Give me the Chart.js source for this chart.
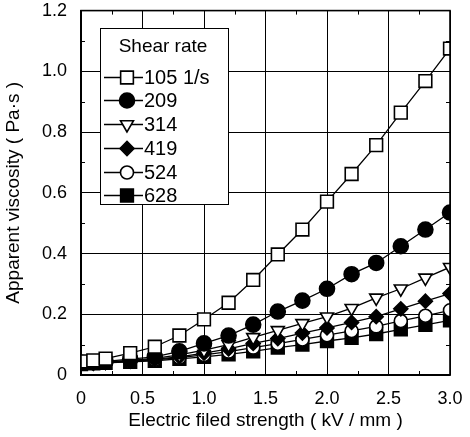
<!DOCTYPE html>
<html>
<head>
<meta charset="utf-8">
<script src="https://cdn.jsdelivr.net/npm/chart.js@4/dist/chart.umd.min.js"></script>
<style>
  html, body { margin: 0; padding: 0; background: #ffffff; }
  #wrap { width: 470px; height: 437px; position: relative; }
</style>
</head>
<body>
<div id="wrap"><canvas id="c" width="470" height="437"></canvas></div>
<script>
// ---- data ----
const fieldStrength = [0, 0.1, 0.2, 0.4, 0.6, 0.8, 1.0, 1.2, 1.4, 1.6, 1.8, 2.0, 2.2, 2.4, 2.6, 2.8, 3.0];
const seriesLabels = ['105 1/s', '209', '314', '419', '524', '628'];
const visc105 = [0.045, 0.048, 0.054, 0.072, 0.093, 0.130, 0.183, 0.238, 0.313, 0.397, 0.479, 0.571, 0.662, 0.757, 0.864, 0.968, 1.075];
const visc209 = [0.040, 0.042, 0.045, 0.052, 0.060, 0.078, 0.104, 0.130, 0.166, 0.209, 0.245, 0.284, 0.332, 0.369, 0.424, 0.479, 0.535];
const visc314 = [0.040, 0.041, 0.043, 0.048, 0.055, 0.066, 0.082, 0.100, 0.124, 0.147, 0.170, 0.192, 0.220, 0.254, 0.284, 0.320, 0.355];
const visc419 = [0.038, 0.040, 0.042, 0.046, 0.052, 0.060, 0.072, 0.086, 0.104, 0.120, 0.138, 0.155, 0.173, 0.192, 0.218, 0.243, 0.268];
const visc524 = [0.037, 0.039, 0.041, 0.045, 0.050, 0.057, 0.066, 0.077, 0.090, 0.103, 0.117, 0.131, 0.145, 0.160, 0.178, 0.195, 0.213];
const visc628 = [0.036, 0.038, 0.040, 0.043, 0.047, 0.053, 0.060, 0.068, 0.078, 0.090, 0.100, 0.112, 0.122, 0.135, 0.150, 0.165, 0.180];
const xTickLabels = ['0', '0.5', '1.0', '1.5', '2.0', '2.5', '3.0'];
const yTickLabels = ['0', '0.2', '0.4', '0.6', '0.8', '1.0', '1.2'];
const legendTitle = 'Shear rate';
const xTitle = 'Electric filed strength ( kV / mm )';
const yTitle = 'Apparent viscosity ( Pa\u00B7s )';

// ---- styles ----
const FONT = '"Liberation Sans", Arial, Helvetica, sans-serif';
const markerStyles = [
  { pointStyle: 'rect', radius: 9, fill: '#ffffff', rotation: 0 },
  { pointStyle: 'circle', radius: 7.5, fill: '#000000', rotation: 0 },
  { pointStyle: 'triangle', radius: 7.5, fill: '#ffffff', rotation: 180 },
  { pointStyle: 'rectRot', radius: 7, fill: '#000000', rotation: 0 },
  { pointStyle: 'circle', radius: 6.5, fill: '#ffffff', rotation: 0 },
  { pointStyle: 'rect', radius: 9, fill: '#000000', rotation: 0 }
];
const allSeries = [visc105, visc209, visc314, visc419, visc524, visc628];

const datasets = allSeries.map((vals, i) => ({
  label: seriesLabels[i],
  data: fieldStrength.map((x, j) => ({ x: x, y: vals[j] })),
  borderColor: '#000000',
  borderWidth: 1.3,
  backgroundColor: markerStyles[i].fill,
  pointStyle: markerStyles[i].pointStyle,
  pointRadius: markerStyles[i].radius,
  pointHoverRadius: markerStyles[i].radius,
  pointRotation: markerStyles[i].rotation,
  pointBackgroundColor: markerStyles[i].fill,
  pointBorderColor: '#000000',
  pointBorderWidth: 1.6,
  fill: false,
  tension: 0
}));

// minor inward ticks + frame
const frameAndMinor = {
  id: 'frameAndMinor',
  afterDraw(chart) {
    const { ctx, chartArea: a, scales } = chart;
    ctx.save();
    ctx.strokeStyle = '#000';
    ctx.lineWidth = 1;
    const L = 4;
    for (let v = 0.1; v < 1.2; v += 0.2) {
      const y = Math.round(scales.y.getPixelForValue(v)) + 0.5;
      ctx.beginPath();
      ctx.moveTo(a.left, y); ctx.lineTo(a.left + L, y);
      ctx.moveTo(a.right, y); ctx.lineTo(a.right - L, y);
      ctx.stroke();
    }
    for (let v = 0.25; v < 3; v += 0.5) {
      const x = Math.round(scales.x.getPixelForValue(v)) + 0.5;
      ctx.beginPath();
      ctx.moveTo(x, a.bottom); ctx.lineTo(x, a.bottom - L);
      ctx.moveTo(x, a.top); ctx.lineTo(x, a.top + L);
      ctx.stroke();
    }
    ctx.lineWidth = 1.6;
    ctx.strokeRect(a.left, a.top, a.right - a.left, a.bottom - a.top);
    ctx.restore();
  }
};

// inset legend box
const insetLegend = {
  id: 'insetLegend',
  afterDatasetsDraw(chart) {
    const ctx = chart.ctx;
    const box = { x: 100.5, y: 28.5, w: 128, h: 176 };
    ctx.save();
    ctx.fillStyle = '#ffffff';
    ctx.fillRect(box.x, box.y, box.w, box.h);
    ctx.strokeStyle = '#000';
    ctx.lineWidth = 1;
    ctx.strokeRect(box.x, box.y, box.w, box.h);
    ctx.fillStyle = '#000';
    ctx.font = '19px ' + FONT;
    ctx.textBaseline = 'middle';
    ctx.textAlign = 'center';
    ctx.fillText(legendTitle, 163, 47);
    ctx.font = '20px ' + FONT;
    ctx.textAlign = 'left';
    const rowY = [77.5, 100.5, 124.5, 148.5, 172.5, 195.5];
    chart.data.datasets.forEach((ds, i) => {
      const y = rowY[i];
      ctx.strokeStyle = '#000';
      ctx.lineWidth = 1.3;
      ctx.beginPath();
      ctx.moveTo(104, y); ctx.lineTo(143, y);
      ctx.stroke();
      ctx.fillStyle = ds.pointBackgroundColor;
      ctx.strokeStyle = '#000';
      ctx.lineWidth = 1.6;
      Chart.helpers.drawPoint(ctx, {
        pointStyle: ds.pointStyle,
        rotation: ds.pointRotation,
        radius: ds.pointRadius,
        borderWidth: 1.6
      }, 127, y);
      ctx.fillStyle = '#000';
      ctx.fillText(ds.label, 144, y + 1);
    });
    ctx.restore();
  }
};

new Chart(document.getElementById('c'), {
  type: 'line',
  data: { datasets: datasets },
  options: {
    responsive: false,
    animation: false,
    events: [],
    layout: { padding: { left: 0, right: 20, top: 7, bottom: 0 } },
    plugins: { legend: { display: false }, tooltip: { enabled: false } },
    scales: {
      x: {
        type: 'linear',
        min: 0, max: 3,
        border: { display: true, color: '#000', width: 1.6 },
        grid: { color: '#000', lineWidth: 1, drawTicks: false },
        ticks: {
          stepSize: 0.5,
          padding: 13,
          color: '#000',
          font: { family: FONT, size: 18 },
          maxRotation: 0,
          callback: (v, i) => xTickLabels[i]
        },
        title: {
          display: true, text: xTitle, color: '#000',
          font: { family: FONT, size: 19 },
          padding: { top: 2, bottom: 5 }
        },
        afterFit(s) { s.height = 62; s.paddingLeft = 0; s.paddingRight = 0; }
      },
      y: {
        type: 'linear',
        min: 0, max: 1.2,
        border: { display: true, color: '#000', width: 1.6 },
        grid: { color: '#000', lineWidth: 1, drawTicks: false },
        ticks: {
          stepSize: 0.2,
          padding: 14,
          color: '#000',
          font: { family: FONT, size: 18 },
          callback: (v, i) => yTickLabels[i]
        },
        title: {
          display: true, text: yTitle, color: '#000',
          font: { family: FONT, size: 19 },
          padding: { top: 2, bottom: 0 }
        },
        afterFit(s) { s.width = 81; s.paddingTop = 0; s.paddingBottom = 0; }
      }
    }
  },
  plugins: [frameAndMinor, insetLegend]
});
</script>
</body>
</html>
